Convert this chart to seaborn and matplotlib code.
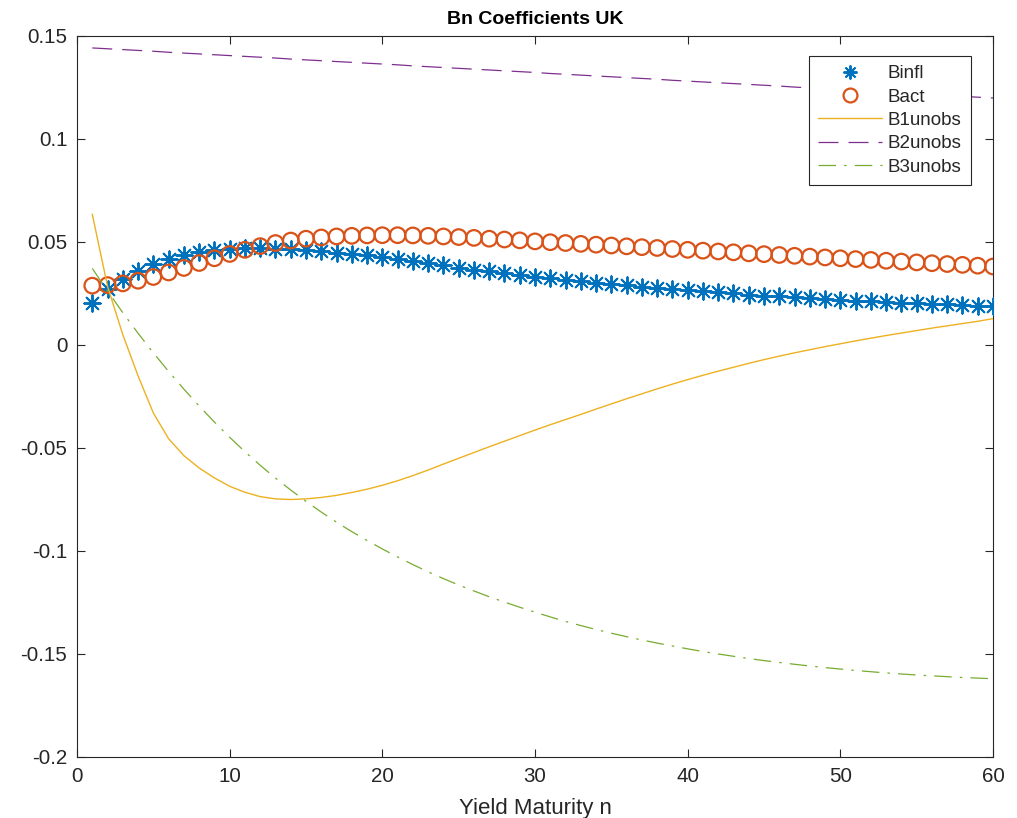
import numpy as np
import pandas as pd
import matplotlib
matplotlib.use("Agg")
import matplotlib.pyplot as plt
from matplotlib.lines import Line2D
import seaborn as sns

# Yield maturities
maturity = list(range(1, 61))

# Loadings on the inflation factor
binfl = [0.0202, 0.0270, 0.0320, 0.0358, 0.0392, 0.0416, 0.0437, 0.0450, 0.0459, 0.0465,
         0.0469, 0.0470, 0.0468, 0.0465, 0.0460, 0.0455, 0.0449, 0.0442, 0.0435, 0.0428,
         0.0416, 0.0406, 0.0396, 0.0386, 0.0376, 0.0366, 0.0357, 0.0348, 0.0340, 0.0331,
         0.0323, 0.0316, 0.0309, 0.0302, 0.0295, 0.0289, 0.0283, 0.0277, 0.0271, 0.0265,
         0.0260, 0.0255, 0.0250, 0.0245, 0.0240, 0.0236, 0.0232, 0.0228, 0.0224, 0.0220,
         0.0216, 0.0212, 0.0209, 0.0206, 0.0203, 0.0200, 0.0197, 0.0194, 0.0191, 0.0188]

# Loadings on the real activity factor
bact = [0.0288, 0.0291, 0.0299, 0.0312, 0.0330, 0.0352, 0.0374, 0.0398, 0.0421, 0.0442,
        0.0462, 0.0480, 0.0495, 0.0507, 0.0516, 0.0522, 0.0527, 0.0530, 0.0532, 0.0533,
        0.0533, 0.0532, 0.0530, 0.0527, 0.0524, 0.0520, 0.0516, 0.0512, 0.0508, 0.0503,
        0.0499, 0.0495, 0.0491, 0.0487, 0.0483, 0.0479, 0.0475, 0.0471, 0.0466, 0.0462,
        0.0458, 0.0454, 0.0450, 0.0445, 0.0441, 0.0437, 0.0433, 0.0429, 0.0425, 0.0421,
        0.0417, 0.0413, 0.0409, 0.0405, 0.0401, 0.0397, 0.0393, 0.0389, 0.0385, 0.0381]

# Loadings on the three unobserved factors
b1unobs = [0.0635, 0.0285, 0.0050, -0.0150, -0.0330, -0.0455, -0.0537, -0.0597, -0.0645, -0.0686,
           -0.0715, -0.0736, -0.0747, -0.0750, -0.0747, -0.0740, -0.0730, -0.0716, -0.0700, -0.0681,
           -0.0659, -0.0634, -0.0607, -0.0578, -0.0550, -0.0522, -0.0494, -0.0467, -0.0440, -0.0413,
           -0.0387, -0.0362, -0.0337, -0.0311, -0.0286, -0.0261, -0.0237, -0.0213, -0.0190, -0.0168,
           -0.0147, -0.0127, -0.0108, -0.0089, -0.0071, -0.0054, -0.0038, -0.0023, -0.0008, 0.0006,
           0.0020, 0.0033, 0.0046, 0.0058, 0.0070, 0.0082, 0.0093, 0.0104, 0.0115, 0.0128]

b2unobs = [0.1442, 0.1438, 0.1434, 0.1430, 0.1426, 0.1421, 0.1417, 0.1413, 0.1409, 0.1405,
           0.1401, 0.1397, 0.1393, 0.1388, 0.1384, 0.1380, 0.1376, 0.1372, 0.1368, 0.1364,
           0.1360, 0.1355, 0.1351, 0.1347, 0.1343, 0.1339, 0.1335, 0.1331, 0.1327, 0.1323,
           0.1318, 0.1314, 0.1310, 0.1306, 0.1302, 0.1298, 0.1294, 0.1290, 0.1285, 0.1281,
           0.1277, 0.1273, 0.1269, 0.1265, 0.1261, 0.1257, 0.1252, 0.1248, 0.1244, 0.1240,
           0.1236, 0.1232, 0.1228, 0.1224, 0.1219, 0.1215, 0.1211, 0.1207, 0.1203, 0.1199]

b3unobs = [0.0372, 0.0262, 0.0157, 0.0057, -0.0038, -0.0128, -0.0214, -0.0296, -0.0374, -0.0448,
           -0.0518, -0.0584, -0.0646, -0.0704, -0.0759, -0.0811, -0.0860, -0.0906, -0.0949, -0.0990,
           -0.1029, -0.1066, -0.1101, -0.1134, -0.1165, -0.1194, -0.1222, -0.1248, -0.1273, -0.1297,
           -0.1320, -0.1342, -0.1362, -0.1381, -0.1399, -0.1416, -0.1432, -0.1447, -0.1461, -0.1475,
           -0.1488, -0.1500, -0.1511, -0.1522, -0.1532, -0.1541, -0.1550, -0.1558, -0.1566, -0.1573,
           -0.1580, -0.1586, -0.1592, -0.1597, -0.1602, -0.1606, -0.1610, -0.1614, -0.1617, -0.1620]

series_names = ["Binfl", "Bact", "B1unobs", "B2unobs", "B3unobs"]
x_ticks = [0, 10, 20, 30, 40, 50, 60]
y_ticks = [-0.2, -0.15, -0.1, -0.05, 0, 0.05, 0.1, 0.15]
y_tick_labels = ["-0.2", "-0.15", "-0.1", "-0.05", "0", "0.05", "0.1", "0.15"]

df = pd.DataFrame({"n": maturity, "Binfl": binfl, "Bact": bact,
                   "B1unobs": b1unobs, "B2unobs": b2unobs, "B3unobs": b3unobs})

sns.set_style("white")
plt.rcParams["font.family"] = ["Liberation Sans", "DejaVu Sans"]

c_blue = "#0072BD"
c_orange = "#D95319"
c_yellow = "#EDB120"
c_purple = "#7E2F8E"
c_green = "#77AC30"
axis_col = "#262626"

dash_b2 = (0, (16, 8))
dash_b3 = (0, (14, 6.5, 2, 6.5))

fig = plt.figure(figsize=(10.17, 8.18), dpi=100)
ax = fig.add_axes([77 / 1017, 1 - 757 / 818, (993 - 77) / 1017, (757 - 36) / 818])

asterisk = (8, 2, 0)
sns.scatterplot(data=df, x="n", y="Binfl", ax=ax, marker=asterisk, s=140,
                color=c_blue, edgecolor=c_blue, linewidth=1.4, zorder=3)
sns.scatterplot(data=df, x="n", y="Bact", ax=ax, marker="o", s=125,
                facecolor="none", edgecolor=c_orange, linewidth=1.6, zorder=3)
sns.lineplot(data=df, x="n", y="B1unobs", ax=ax, color=c_yellow, linewidth=1.0, zorder=4)
sns.lineplot(data=df, x="n", y="B2unobs", ax=ax, color=c_purple, linewidth=0.9,
             linestyle=dash_b2, zorder=4)
sns.lineplot(data=df, x="n", y="B3unobs", ax=ax, color=c_green, linewidth=0.9,
             linestyle=dash_b3, zorder=4)

ax.set_xlim(0, 60)
ax.set_ylim(-0.2, 0.15)
ax.set_xticks(x_ticks)
ax.set_xticklabels([str(t) for t in x_ticks])
ax.set_yticks(y_ticks)
ax.set_yticklabels(y_tick_labels)
ax.tick_params(axis="both", direction="in", length=6, width=0.8, colors=axis_col,
               labelsize=14.8, top=True, right=True, bottom=True, left=True)
ax.tick_params(axis="y", pad=7)
ax.tick_params(axis="x", pad=7)
for sp in ax.spines.values():
    sp.set_visible(True)
    sp.set_color(axis_col)
    sp.set_linewidth(0.8)

ax.set_xlabel("Yield Maturity n", fontsize=16, color=axis_col, labelpad=9)
ax.set_ylabel("")
ax.set_title("Bn Coefficients UK", fontsize=14, fontweight="bold", color="black", pad=9)

handles = [
    Line2D([], [], linestyle="none", marker=asterisk, markersize=10, color=c_blue,
           markeredgewidth=1.4),
    Line2D([], [], linestyle="none", marker="o", markersize=10, markerfacecolor="none",
           markeredgecolor=c_orange, markeredgewidth=1.6),
    Line2D([], [], color=c_yellow, linewidth=1.0),
    Line2D([], [], color=c_purple, linewidth=0.9, linestyle=dash_b2),
    Line2D([], [], color=c_green, linewidth=0.9, linestyle=dash_b3),
]
leg = ax.legend(handles, series_names, loc="upper right", bbox_to_anchor=(0.9760, 0.9725),
                fontsize=13.5, frameon=True, fancybox=False, framealpha=1,
                handlelength=3.4, handletextpad=0.3, borderpad=0.5, labelspacing=0.33,
                borderaxespad=0)
leg.get_frame().set_edgecolor(axis_col)
leg.get_frame().set_linewidth(0.8)

fig.savefig("out.png", dpi=100, facecolor="white")
